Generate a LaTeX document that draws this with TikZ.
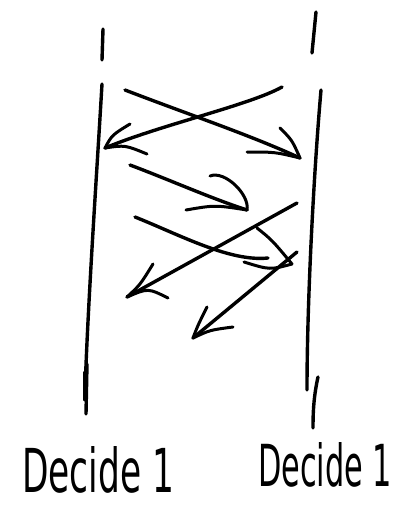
\documentclass[tikz,border=0pt]{standalone}
\usepackage{fontspec}
\setmainfont{DejaVu Sans}
\usepackage{graphicx}
\usetikzlibrary{arrows.meta,calc}

\begin{document}
\begin{tikzpicture}[
    x=1pt, y=-1pt,
    every node/.style={inner sep=0pt},
    ink/.style={line width=3.4pt, line cap=round, line join=round},
    barb/.style={line width=3pt, line cap=round},
    hand/.style={font=\fontsize{30}{30}\selectfont}
]
\useasboundingbox (0,0) rectangle (403,506);

% Left process line
\coordinate (ltop1) at (103,29);
\coordinate (ltop2) at (102,60);
\coordinate (lstart) at (102,84);
\coordinate (lend) at (85,392);
\draw[ink] (ltop1) -- (ltop2);
\draw[ink] (lstart) .. controls (97,170) and (88,300) .. (lend);
\draw[ink] (87,364) -- (86,414);
\draw[barb] (84,372) -- (84,400);

% Right process line
\coordinate (rtop1) at (316,12);
\coordinate (rtop2) at (312,53);
\coordinate (rstart) at (321,90);
\coordinate (rend) at (307,390);
\draw[ink] (rtop1) -- (rtop2);
\draw[ink] (rstart) .. controls (314,170) and (307,300) .. (rend);
\draw[ink] (318,377) .. controls (314,395) and (313,410) .. (313,428);

% Messages, left to right
\coordinate (a0) at (125,90);
\coordinate (a1) at (300,158);
\draw[ink] (a0) .. controls (190,115) and (250,135) .. (a1);
\draw[barb] (280,128) .. controls (292,140) .. (a1);
\draw[barb] (247,152) .. controls (275,152) .. (a1);

\coordinate (c0) at (130,165);
\coordinate (c1) at (247,210);
\draw[ink] (c0) .. controls (170,180) and (210,198) .. (c1);
\draw[barb] (210,176) .. controls (225,170) and (250,195) .. (c1);
\draw[barb] (186,210) .. controls (215,205) .. (c1);

\coordinate (d0) at (135,217);
\coordinate (d1) at (292,264);
\draw[ink] (d0) .. controls (180,235) and (230,262) .. (268,258);
\draw[barb] (257,228) .. controls (272,240) .. (d1);
\draw[barb] (244,262) .. controls (270,270) .. (d1);

% Messages, right to left
\coordinate (b0) at (282,87);
\coordinate (b1) at (105,148);
\draw[ink] (b0) .. controls (250,105) and (160,125) .. (b1);
\draw[barb] (130,124) .. controls (112,135) .. (b1);
\draw[barb] (147,154) .. controls (125,145) .. (b1);

\coordinate (e0) at (297,203);
\coordinate (e1) at (127,297);
\draw[ink] (e0) -- (e1);
\draw[barb] (153,264) .. controls (140,285) .. (e1);
\draw[barb] (168,298) .. controls (148,288) .. (e1);

\coordinate (f0) at (297,252);
\coordinate (f1) at (193,338);
\draw[ink] (f0) -- (f1);
\draw[barb] (207,307) .. controls (198,325) .. (f1);
\draw[barb] (233,327) .. controls (210,330) .. (f1);

% Decisions
\node[hand, anchor=south west] (dleft) at (22,494) {\resizebox{152pt}{46pt}{Decide 1}};
\node[hand, anchor=south west] (dright) at (258,488) {\resizebox{134pt}{44pt}{Decide 1}};

\end{tikzpicture}
\end{document}
